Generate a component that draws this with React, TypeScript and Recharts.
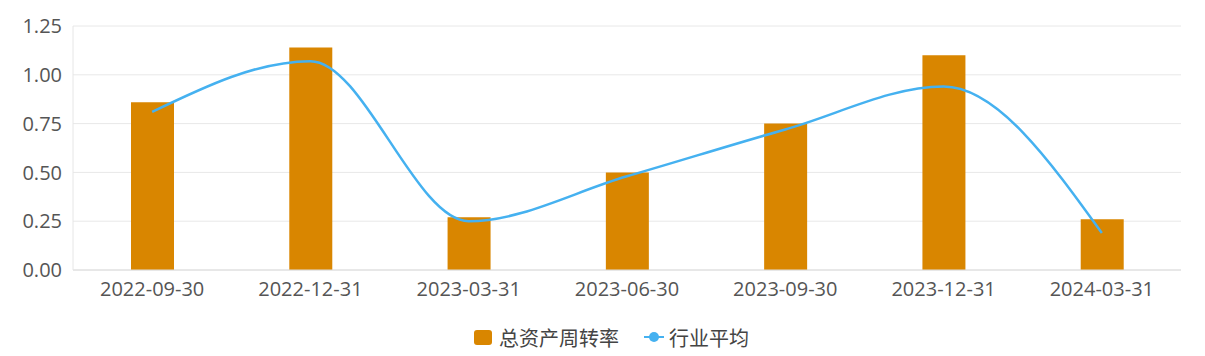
import React from "react";
import {
  ComposedChart,
  Bar,
  Line,
  XAxis,
  YAxis,
  CartesianGrid,
  Legend,
} from "recharts";

const periods = [
  "2022-09-30",
  "2022-12-31",
  "2023-03-31",
  "2023-06-30",
  "2023-09-30",
  "2023-12-31",
  "2024-03-31",
];
const turnover = [0.86, 1.14, 0.27, 0.5, 0.75, 1.1, 0.26];
const industryAvg = [0.81, 1.07, 0.25, 0.48, 0.72, 0.94, 0.19];
const yTicks = [0, 0.25, 0.5, 0.75, 1.0, 1.25];

const BAR_COLOR = "#D98600";
const LINE_COLOR = "#45B1F0";
const FONT = "'Open Sans', 'Noto Sans CJK SC', sans-serif";

const data = periods.map((p, i) => ({
  period: p,
  turnover: turnover[i],
  avg: industryAvg[i],
}));

function LegendContent() {
  return (
    <div
      style={{
        display: "flex",
        justifyContent: "center",
        alignItems: "center",
        height: 30,
        fontFamily: FONT,
        fontSize: 20,
        color: "#444",
        paddingLeft: 18,
      }}
    >
      <span style={{ display: "flex", alignItems: "center", marginRight: 25 }}>
        <span
          style={{
            width: 18,
            height: 15,
            borderRadius: 3,
            background: BAR_COLOR,
            marginRight: 7,
          }}
        />
        总资产周转率
      </span>
      <span style={{ display: "flex", alignItems: "center" }}>
        <svg width={20} height={12} style={{ marginRight: 5 }}>
          <line x1={0} y1={6} x2={20} y2={6} stroke={LINE_COLOR} strokeWidth={2} />
          <circle cx={10} cy={6} r={5} fill={LINE_COLOR} />
        </svg>
        行业平均
      </span>
    </div>
  );
}

export default function App() {
  return (
    <div style={{ position: "absolute", left: 0, top: 0, background: "#fff" }}>
      <ComposedChart
        width={1205}
        height={356}
        data={data}
        margin={{ top: 26, right: 24, left: 0, bottom: 26 }}
      >
        <CartesianGrid vertical={false} stroke="#e8e8e8" />
        <XAxis
          dataKey="period"
          height={30}
          tickSize={0}
          tickMargin={12}
          axisLine={{ stroke: "#dcdcdc" }}
          tick={{ fill: "#555", fontSize: 20, fontFamily: FONT }}
          interval={0}
        />
        <YAxis
          width={73}
          domain={[0, 1.25]}
          ticks={yTicks}
          tickFormatter={(v: number) => v.toFixed(2)}
          tickSize={0}
          tickMargin={11}
          axisLine={{ stroke: "#e6e6e6" }}
          tick={{ fill: "#555", fontSize: 20, fontFamily: FONT }}
        />
        <Legend
          verticalAlign="bottom"
          content={() => <LegendContent />}
          wrapperStyle={{ top: 322, left: 0, width: 1205 }}
        />
        <Bar
          dataKey="turnover"
          name="总资产周转率"
          fill={BAR_COLOR}
          barSize={43}
          isAnimationActive={false}
        />
        <Line
          dataKey="avg"
          name="行业平均"
          type="monotone"
          stroke={LINE_COLOR}
          strokeWidth={2.5}
          dot={false}
          activeDot={false}
          isAnimationActive={false}
        />
      </ComposedChart>
    </div>
  );
}
